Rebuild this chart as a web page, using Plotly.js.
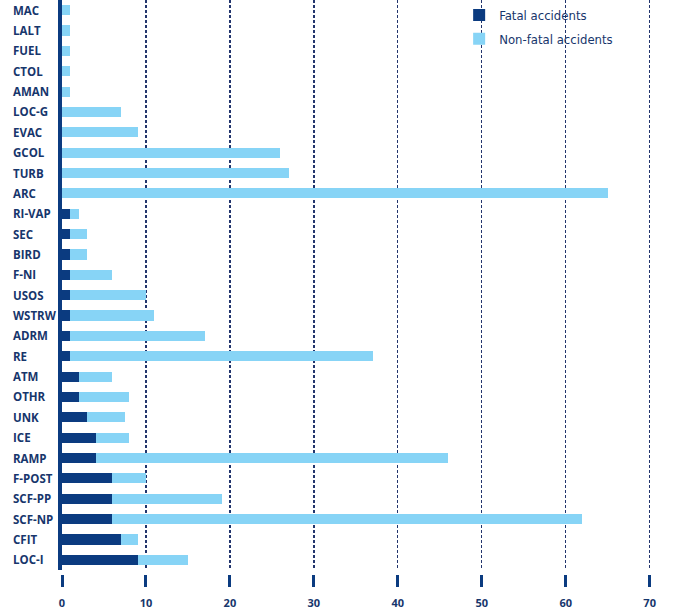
<!DOCTYPE html>
<html>
<head>
<meta charset="utf-8">
<script src="https://cdn.plot.ly/plotly-3.0.1.min.js"></script>
<style>
  html, body { margin: 0; padding: 0; background: #ffffff; }
  #chart { width: 673px; height: 613px; }
</style>
</head>
<body>
<div id="chart"></div>
<script>
// Categories, listed from top to bottom as in the reference
const categories = ["MAC", "LALT", "FUEL", "CTOL", "AMAN", "LOC-G", "EVAC", "GCOL", "TURB", "ARC",
  "RI-VAP", "SEC", "BIRD", "F-NI", "USOS", "WSTRW", "ADRM", "RE", "ATM", "OTHR",
  "UNK", "ICE", "RAMP", "F-POST", "SCF-PP", "SCF-NP", "CFIT", "LOC-I"];

// Fatal accidents (dark segment)
const fatal = [0, 0, 0, 0, 0, 0, 0, 0, 0, 0,
  1, 1, 1, 1, 1, 1, 1, 1, 2, 2,
  3, 4, 4, 6, 6, 6, 7, 9];

// Non-fatal accidents (light segment, stacked after fatal)
const nonFatal = [1, 1, 1, 1, 1, 7, 9, 26, 27, 65,
  1, 2, 2, 5, 9, 10, 16, 36, 4, 6,
  4.5, 4, 42, 4, 13, 56, 2, 6];

const xTicks = [0, 10, 20, 30, 40, 50, 60, 70];
const seriesNames = ["Fatal accidents", "Non-fatal accidents"];

const NAVY = "#0b3b80";
const LIGHT = "#87d4f6";
const TEXT = "#17366c";
const GRID = "#22356d";
const LABELFONT = "'Open Sans', 'Noto Sans', sans-serif";
const NARROW = "'DejaVu Sans Condensed', 'Liberation Sans Narrow', sans-serif";

const traces = [
  {
    type: "bar", orientation: "h", name: seriesNames[0],
    x: fatal, y: categories,
    marker: { color: NAVY, line: { width: 0 } },
    legendgroup: "a", hoverinfo: "x+y"
  },
  {
    type: "bar", orientation: "h", name: seriesNames[1],
    x: nonFatal, y: categories,
    marker: { color: LIGHT, line: { width: 0 } },
    legendgroup: "b", hoverinfo: "x+y"
  }
];

const annotations = categories.map(c => ({
  xref: "paper", yref: "y", x: -0.087, y: c, xanchor: "left", yanchor: "middle",
  text: c, showarrow: false,
  font: { family: LABELFONT, size: 11.5, color: TEXT, weight: "bold" }
}));

const layout = {
  width: 673, height: 613,
  margin: { l: 62, r: 20, t: 0, b: 39, pad: 0 },
  paper_bgcolor: "#ffffff", plot_bgcolor: "#ffffff",
  barmode: "stack", bargap: 0.5,
  showlegend: true,
  legend: {
    x: 0.672, y: 1.0, xanchor: "left", yanchor: "top",
    traceorder: "grouped", tracegroupgap: 4,
    font: { family: NARROW, size: 13, color: TEXT },
    bgcolor: "rgba(0,0,0,0)"
  },
  xaxis: {
    range: [0, 70.4], anchor: "free", position: 0,
    tickmode: "array", tickvals: xTicks, ticktext: xTicks.map(String),
    ticks: "outside", ticklen: 12, tickwidth: 3, tickcolor: NAVY,
    showgrid: true, gridcolor: GRID, gridwidth: 1.3, griddash: "3px,2px",
    zeroline: false, showline: false,
    tickfont: { family: LABELFONT, size: 11, color: TEXT, weight: "bold" },
    ticklabelstandoff: 7,
    fixedrange: true
  },
  yaxis: {
    domain: [0.007, 1],
    autorange: "reversed", type: "category",
    showticklabels: false, ticks: "",
    showgrid: false, zeroline: false,
    showline: true, linecolor: NAVY, linewidth: 4,
    fixedrange: true
  },
  annotations: annotations
};

Plotly.newPlot("chart", traces, layout, { displayModeBar: false, staticPlot: true });
</script>
</body>
</html>
